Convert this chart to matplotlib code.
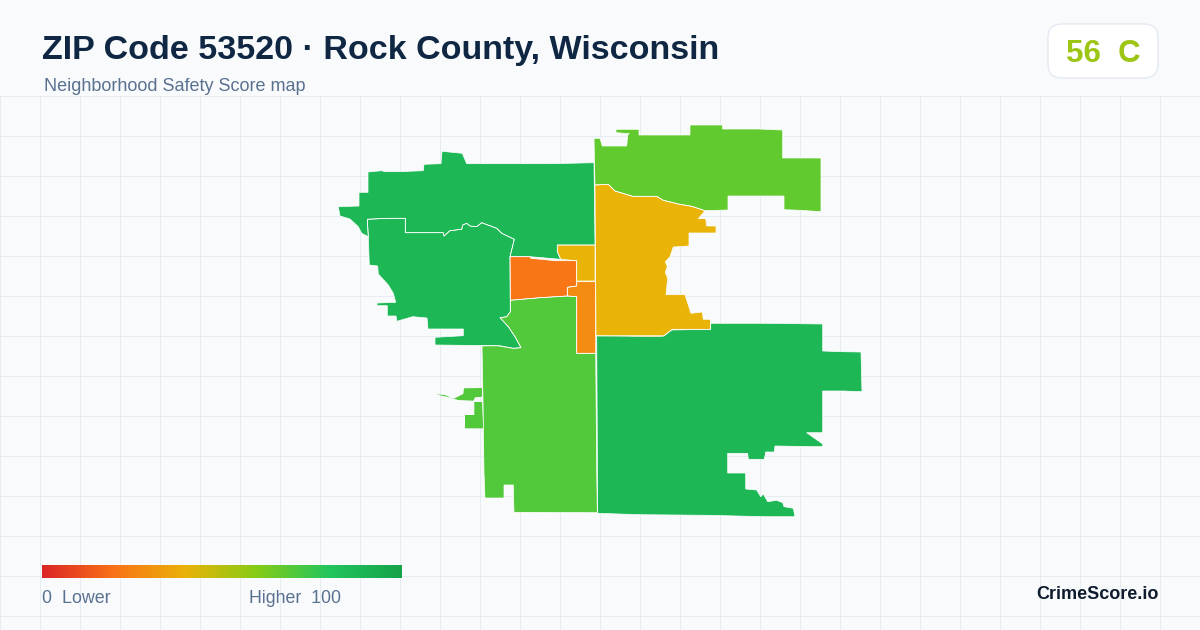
import numpy as np
import matplotlib
matplotlib.use("Agg")
import matplotlib.pyplot as plt
from matplotlib.colors import LinearSegmentedColormap
from matplotlib.patches import FancyBboxPatch, Polygon

plt.rcParams['font.family'] = ['Liberation Sans', 'DejaVu Sans']

# values
title = "ZIP Code 53520 · Rock County, Wisconsin"
subtitle = "Neighborhood Safety Score map"
overall_score = "56  C"
brand = "CrimeScore.io"

score_stops = [0.0, 0.2, 0.4, 0.6, 0.8, 1.0]
score_colors = ["#dc2626", "#f97316", "#eab308", "#84cc16", "#22c55e", "#16a34a"]

# region scores, estimated from the fill colours
score_nw = 88
score_sw = 88
score_se = 88
score_north = 67
score_south = 70
score_east = 40
score_center_yellow = 40
score_center_orange = 21
score_center_amber = 28

# tract outlines, traced in image pixels
outline_nw = [(338.3, 206.7), (359, 206), (359, 192.3), (368, 192.3), (368, 172), (381.7, 170.7), (385, 171.7),
              (398.3, 171.7), (423.3, 170.7), (424, 164.3), (441, 163.7), (442, 151.3), (462.3, 153.3), (466.7, 163.7),
              (550, 163.7), (594, 162.7), (595, 245), (557.3, 245), (557.3, 251.7), (560.7, 259.3), (530, 256.7),
              (510, 256.7), (514.3, 239.3), (501.7, 233.3), (496.7, 228.3), (481.7, 222.7), (476.7, 226.7), (470, 226),
              (466.7, 223.3), (462.7, 225), (461.7, 229.3), (450, 230.7), (444, 236), (443.3, 232.7), (405.3, 232.7),
              (405.3, 218.3), (387.3, 218.3), (367.3, 219.3), (368.3, 236.7), (361.7, 233.3), (358.3, 226.7),
              (350, 219), (340, 216)]
outline_sw = [(367.3, 219.3), (387.3, 218.3), (405.3, 218.3), (405.3, 232.7), (443.3, 232.7), (444, 236), (450, 230.7),
              (461.7, 229.3), (462.7, 225), (466.7, 223.3), (470, 226), (476.7, 226.7), (481.7, 222.7), (496.7, 228.3),
              (501.7, 233.3), (514.3, 239.3), (510, 256.7), (510.3, 311.7), (506.7, 316.7), (500, 317.7),
              (508.3, 326.7), (515, 336.7), (521, 347.7), (513.3, 348.3), (496.7, 345.7), (435, 345), (435, 337.3),
              (463.3, 335.7), (463.3, 329), (428, 329), (427, 318), (412.7, 316.7), (396.7, 321.3), (396, 316),
              (387.3, 316), (387.3, 305.7), (377, 305.7), (377, 303), (395.7, 302.3), (393.3, 293.3), (388.3, 285),
              (378.3, 274), (377.7, 266), (369.3, 265), (368.3, 236.7)]
outline_center_orange = [(510, 256.7), (530, 256.7), (530.7, 258.3), (555, 260.7), (576.7, 260.7), (576.7, 286),
                         (567.3, 287.3), (567.3, 296), (540, 297.7), (510.3, 300.3)]
outline_center_yellow = [(557.3, 245), (595, 245), (595, 281), (576.7, 281), (576.7, 260.7), (560.7, 259.3),
                         (557.3, 251.7)]
outline_center_amber = [(576.7, 286), (576.7, 281.7), (595.7, 281.7), (595.7, 353.3), (576.7, 353.3), (576.7, 296.7),
                        (567.3, 296), (567.3, 287.3)]
outline_south = [(510.3, 300.3), (540, 297.7), (567.3, 296), (576.7, 296.7), (576.7, 353.3), (595.7, 353.3),
                 (596.7, 470), (597.3, 512.7), (514, 512.3), (513.3, 485), (504, 485), (504, 498), (485, 498),
                 (484, 473), (483, 400), (482, 346), (500, 345.7), (513.3, 348.3), (521, 347.7), (515, 336.7),
                 (508.3, 326.7), (500, 317.7), (506.7, 316.7), (510.3, 311.7)]
outline_south_islet_a = [(436, 394.3), (445, 395), (453.3, 399), (463.3, 394), (464, 388.3), (482, 388), (482, 396.7),
                         (475, 397.3), (473.3, 400.7), (458.3, 400), (446.7, 396.7)]
outline_south_islet_b = [(474.3, 402), (482, 402), (483.3, 428.3), (465, 428.3), (465, 415), (474.3, 415)]
outline_se = [(596.7, 336), (656.7, 335.3), (663.3, 336), (671.7, 330), (710.7, 329.3), (710.7, 323.3), (766.7, 323.3),
              (822.7, 324), (822.7, 351), (841.7, 351.7), (861, 352), (862, 391.7), (843.3, 391), (822.7, 391),
              (822.7, 432.7), (806.7, 432.7), (822.7, 444), (822.7, 446.7), (775, 446), (774.3, 452), (765.7, 452),
              (764.3, 459.3), (748.3, 459.3), (747.7, 453.3), (727.7, 453.3), (727.7, 473), (745.7, 473), (745.7, 489),
              (756.7, 490), (760.7, 496.7), (763.3, 494), (767.7, 501.7), (776.7, 500.3), (782.7, 502.7), (784, 506.7),
              (793.3, 508.3), (795, 516.7), (766.7, 516.7), (706.7, 515.3), (640, 514.7), (597.7, 513.3)]
outline_east = [(595, 185), (608.3, 184.3), (615, 191), (632.7, 196.3), (656.7, 196.3), (663.3, 200.3), (678.3, 204),
                (691.7, 206.3), (705, 210.7), (698.3, 218.7), (705.7, 218.7), (706.7, 226), (716, 226), (716, 233),
                (689, 233), (689, 246), (673.3, 247), (670, 256.7), (665.3, 261.7), (667.3, 266.7), (665.3, 272.3),
                (667.7, 278.3), (666, 294.7), (685, 294.7), (691, 313.3), (702.3, 312), (703.3, 319.3), (710.3, 319.3),
                (710.3, 329.3), (672.3, 329.3), (664, 336), (656.7, 336.7), (596, 335.7)]
outline_north = [(594, 138.3), (600, 138.3), (602.3, 146), (626.7, 146), (627.7, 135), (629.3, 133.7), (616, 132.7),
                 (616, 129.3), (639, 129.3), (639, 135), (690, 135), (690, 125), (722.7, 125), (722.7, 129),
                 (758.3, 129), (782.7, 130), (782.7, 158), (821, 158), (821, 211.7), (800, 210.3), (784, 209.7),
                 (784, 196), (728, 196), (728, 210), (705, 210.7), (691.7, 206.3), (678.3, 204), (663.3, 200.3),
                 (656.7, 196.3), (632.7, 196.3), (615, 191), (608.3, 184.3), (595, 185)]

regions = [
    (outline_north, score_north),
    (outline_nw, score_nw),
    (outline_sw, score_sw),
    (outline_south, score_south),
    (outline_se, score_se),
    (outline_east, score_east),
    (outline_center_yellow, score_center_yellow),
    (outline_center_orange, score_center_orange),
    (outline_center_amber, score_center_amber),
]
islets = [
    (outline_south_islet_a, score_south),
    (outline_south_islet_b, score_south),
]

cmap = LinearSegmentedColormap.from_list("safety", list(zip(score_stops, score_colors)))

fig = plt.figure(figsize=(12, 6.3), dpi=100, facecolor="#f8fafc")
ax = fig.add_axes([0, 0, 1, 1])
ax.set_xlim(0, 1200)
ax.set_ylim(630, 0)
ax.axis("off")

# background grid, only below the header
for x in np.arange(0, 1200, 40):
    ax.plot([x, x], [96, 630], color="#e6edf2", lw=0.72, zorder=1)
for y in np.arange(96, 630, 40):
    ax.plot([0, 1200], [y, y], color="#e6edf2", lw=0.72, zorder=1)

# map: fill first, then a thin white border; the islets stay unbordered so their tips survive
for outline, score in regions + islets:
    ax.add_patch(Polygon(outline, closed=True, facecolor=cmap(score / 100), edgecolor="none", zorder=2))
for outline, score in regions:
    ax.add_patch(Polygon(outline, closed=True, facecolor="none", edgecolor="white", lw=0.5,
                         joinstyle="round", zorder=2.5))

# header
ax.text(42, 59.5, title, fontsize=24.45, fontweight="bold", color="#0f2742", va="baseline", zorder=4)
ax.text(44, 91, subtitle, fontsize=12.95, color="#5a7190", va="baseline", zorder=4)

# score badge
ax.add_patch(FancyBboxPatch((1062, 38), 82, 26, boxstyle="round,pad=14,rounding_size=14", facecolor="white",
                            edgecolor="#e2e8f0", lw=0.9, zorder=3))
ax.text(1103, 61.5, overall_score, fontsize=22.5, fontweight="bold", color="#9dc514", ha="center", va="baseline",
        zorder=4)

# legend bar
gradient = np.linspace(0, 1, 360).reshape(1, -1)
ax.imshow(gradient, cmap=cmap, extent=(42, 402, 578, 565), aspect="auto", zorder=3, interpolation="bilinear")
ax.set_xlim(0, 1200)
ax.set_ylim(630, 0)
ax.text(42, 603, "0  Lower", fontsize=12.85, color="#5a7190", va="baseline", zorder=4)
ax.text(249, 603, "Higher  100", fontsize=12.75, color="#5a7190", va="baseline", zorder=4)

ax.text(1158.5, 599, brand, fontsize=13, fontweight="bold", color="#0f1c2e", ha="right", va="baseline", zorder=4)

fig.savefig("out.png", dpi=100, facecolor=fig.get_facecolor())
